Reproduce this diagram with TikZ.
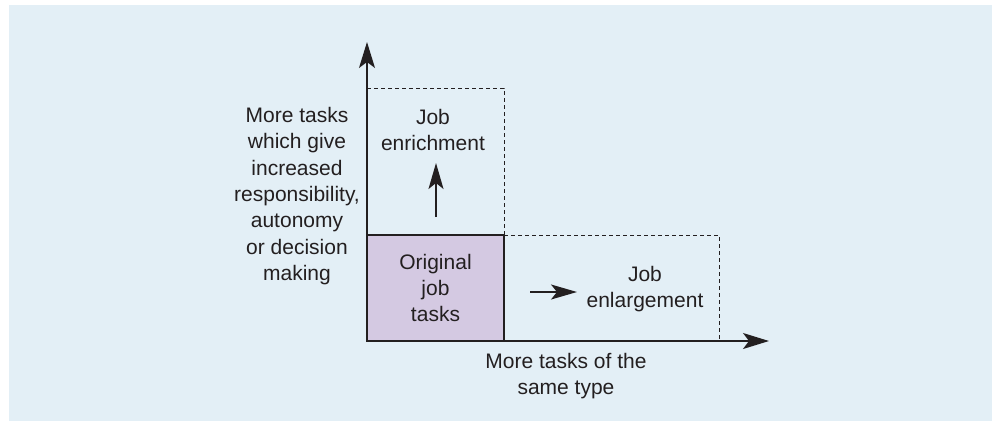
\documentclass[tikz,border=0pt]{standalone}
\usepackage{fontspec}
\setmainfont{Liberation Sans}
\usetikzlibrary{arrows.meta}
\definecolor{panelblue}{HTML}{E3EFF6}
\definecolor{taskpurple}{HTML}{D4C9E2}
\definecolor{diagink}{HTML}{231F20}

\begin{document}
\begin{tikzpicture}[
  x=0.5pt,
  y=-0.5pt,
  every node/.style={font=\fontsize{10.5}{13.2}\selectfont, text=diagink,
    align=center, inner sep=0pt},
  axis/.style={diagink, line width=0.75pt, -{Stealth[length=13pt, width=8pt, inset=3pt]}},
  push/.style={diagink, line width=0.75pt, -{Stealth[length=13pt, width=7.5pt, inset=3pt]}},
  extent/.style={diagink, line width=0.5pt, dash pattern=on 2pt off 1.5pt},
  taskbox/.style={draw=diagink, line width=1.25pt, fill=taskpurple,
    minimum width=68.5pt, minimum height=53pt}
]
  % ---- panel -----------------------------------------------------------
  \useasboundingbox (0,0) rectangle (993,425);
  \fill[panelblue] (9,5) rectangle (992,421);

  % ---- dashed extents of the two directions -----------------------------
  \draw[extent] (367,88) -- (504,88) -- (504,235);
  \draw[extent] (504,235) -- (719,235) -- (719,341);

  % ---- original job --------------------------------------------------
  \node[taskbox] (orig) at (435.5,288) {Original\\job\\tasks};

  % ---- axes ------------------------------------------------------------
  \coordinate (origin) at (367,341);
  \coordinate (xend) at (769,341);
  \coordinate (yend) at (367,42);
  \draw[axis] (origin) -- (xend);
  \draw[axis] (origin) -- (yend);

  % ---- axis labels -----------------------------------------------------
  \node (ylab) at (297,196) {More tasks\\which give\\increased\\responsibility,\\autonomy\\or decision\\making};
  \node (xlab) at (566,376) {More tasks of the\\same type};

  % ---- the two ways out --------------------------------------------------
  \node (enrich) at (433,130) {Job\\enrichment};
  \node (enlarge) at (645,289) {Job\\enlargement};
  \coordinate (upfrom) at (436,217);
  \coordinate (upto) at (436,163);
  \coordinate (rightfrom) at (530,292);
  \coordinate (rightto) at (577,292);
  \draw[push] (upfrom) -- (upto);
  \draw[push] (rightfrom) -- (rightto);
\end{tikzpicture}
\end{document}
